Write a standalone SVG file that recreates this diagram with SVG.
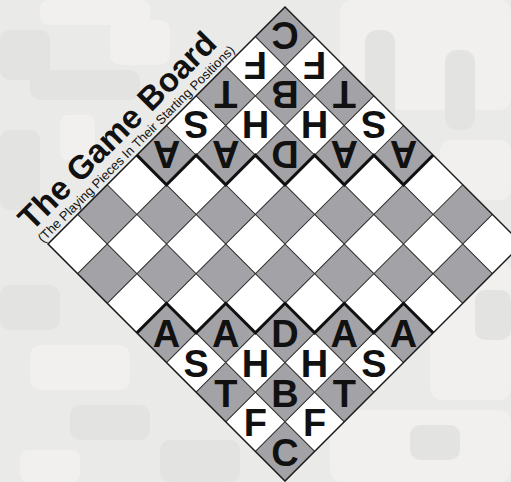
<svg xmlns="http://www.w3.org/2000/svg" width="511" height="482" viewBox="0 0 511 482">
<style>
.bgd{fill:#e3e3e2}
.bgl{fill:#f1f0ee}
.g{fill:#a3a3a7}
.grid{stroke:#2a2a2a;stroke-width:1;fill:none}
.thick{stroke:#111;stroke-width:3;fill:none;stroke-linejoin:miter}
.pc{font-family:"Liberation Sans",Arial,sans-serif;font-weight:bold;font-size:38px;fill:#111;text-anchor:middle}
</style>
<g id="background">
<rect x="0" y="0" width="511" height="482" fill="#eaeae8"/>
<rect class="bgl" x="40" y="0" width="110" height="25" rx="8"/>
<rect class="bgd" x="0" y="30" width="50" height="50" rx="10"/>
<rect class="bgd" x="30" y="70" width="110" height="30" rx="10"/>
<rect class="bgl" x="110" y="20" width="60" height="45" rx="10"/>
<rect class="bgd" x="0" y="130" width="40" height="80" rx="10"/>
<rect class="bgl" x="60" y="115" width="35" height="45" rx="8"/>
<rect class="bgl" x="340" y="0" width="171" height="110" rx="12"/>
<rect class="bgd" x="365" y="30" width="30" height="100" rx="12"/>
<rect class="bgd" x="445" y="50" width="30" height="80" rx="12"/>
<rect class="bgl" x="440" y="140" width="71" height="60" rx="10"/>
<rect class="bgl" x="430" y="260" width="81" height="140" rx="12"/>
<rect class="bgd" x="475" y="290" width="36" height="50" rx="10"/>
<rect class="bgl" x="330" y="410" width="181" height="72" rx="12"/>
<rect class="bgd" x="410" y="425" width="50" height="35" rx="10"/>
<rect class="bgd" x="0" y="285" width="60" height="45" rx="10"/>
<rect class="bgl" x="30" y="345" width="100" height="45" rx="10"/>
<rect class="bgd" x="70" y="405" width="80" height="35" rx="10"/>
<rect class="bgl" x="20" y="450" width="60" height="32" rx="8"/>
<rect class="bgd" x="160" y="440" width="80" height="42" rx="10"/>
</g>
<g id="board" transform="translate(285,7) rotate(45)">
<rect x="0" y="0" width="335.2" height="335.2" fill="#ffffff"/>
<g class="g">
<rect x="0" y="0" width="41.9" height="41.9"/><rect x="83.8" y="0" width="41.9" height="41.9"/><rect x="167.6" y="0" width="41.9" height="41.9"/><rect x="251.4" y="0" width="41.9" height="41.9"/>
<rect x="41.9" y="41.9" width="41.9" height="41.9"/><rect x="125.7" y="41.9" width="41.9" height="41.9"/><rect x="209.5" y="41.9" width="41.9" height="41.9"/><rect x="293.3" y="41.9" width="41.9" height="41.9"/>
<rect x="0" y="83.8" width="41.9" height="41.9"/><rect x="83.8" y="83.8" width="41.9" height="41.9"/><rect x="167.6" y="83.8" width="41.9" height="41.9"/><rect x="251.4" y="83.8" width="41.9" height="41.9"/>
<rect x="41.9" y="125.7" width="41.9" height="41.9"/><rect x="125.7" y="125.7" width="41.9" height="41.9"/><rect x="209.5" y="125.7" width="41.9" height="41.9"/><rect x="293.3" y="125.7" width="41.9" height="41.9"/>
<rect x="0" y="167.6" width="41.9" height="41.9"/><rect x="83.8" y="167.6" width="41.9" height="41.9"/><rect x="167.6" y="167.6" width="41.9" height="41.9"/><rect x="251.4" y="167.6" width="41.9" height="41.9"/>
<rect x="41.9" y="209.5" width="41.9" height="41.9"/><rect x="125.7" y="209.5" width="41.9" height="41.9"/><rect x="209.5" y="209.5" width="41.9" height="41.9"/><rect x="293.3" y="209.5" width="41.9" height="41.9"/>
<rect x="0" y="251.4" width="41.9" height="41.9"/><rect x="83.8" y="251.4" width="41.9" height="41.9"/><rect x="167.6" y="251.4" width="41.9" height="41.9"/><rect x="251.4" y="251.4" width="41.9" height="41.9"/>
<rect x="41.9" y="293.3" width="41.9" height="41.9"/><rect x="125.7" y="293.3" width="41.9" height="41.9"/><rect x="209.5" y="293.3" width="41.9" height="41.9"/><rect x="293.3" y="293.3" width="41.9" height="41.9"/>
</g>
<path class="grid" d="M41.9 0V335.2M83.8 0V335.2M125.7 0V335.2M167.6 0V335.2M209.5 0V335.2M251.4 0V335.2M293.3 0V335.2M0 41.9H335.2M0 83.8H335.2M0 125.7H335.2M0 167.6H335.2M0 209.5H335.2M0 251.4H335.2M0 293.3H335.2"/>
<rect x="0" y="0" width="335.2" height="335.2" fill="none" stroke="#1a1a1a" stroke-width="1.5"/>
<path class="thick" d="M209.5 0V41.9H167.6V83.8H125.7V125.7H83.8V167.6H41.9V209.5H0"/>
<path class="thick" d="M335.2 125.7H293.3V167.6H251.4V209.5H209.5V251.4H167.6V293.3H125.7V335.2"/>
</g>
<g id="title" transform="translate(48,244) rotate(-45)" font-family="'Liberation Sans',Arial,sans-serif" fill="#111">
<text x="-3" y="-20" font-size="33" font-weight="bold">The Game Board</text>
<text x="-3" y="-4" font-size="13">(The Playing Pieces In Their Starting Positions)</text>
</g>
<g id="pieces-top">
<text class="pc" x="285" y="51.1" transform="rotate(180 285 36.6)">C</text>
<text class="pc" x="314.6" y="80.8" transform="rotate(180 314.6 66.3)">F</text>
<text class="pc" x="255.4" y="80.8" transform="rotate(180 255.4 66.3)">F</text>
<text class="pc" x="344.3" y="110.4" transform="rotate(180 344.3 95.9)">T</text>
<text class="pc" x="285" y="110.4" transform="rotate(180 285 95.9)">B</text>
<text class="pc" x="225.8" y="110.4" transform="rotate(180 225.8 95.9)">T</text>
<text class="pc" x="373.9" y="140" transform="rotate(180 373.9 125.5)">S</text>
<text class="pc" x="314.6" y="140" transform="rotate(180 314.6 125.5)">H</text>
<text class="pc" x="255.4" y="140" transform="rotate(180 255.4 125.5)">H</text>
<text class="pc" x="196.1" y="140" transform="rotate(180 196.1 125.5)">S</text>
<text class="pc" x="403.5" y="169.6" transform="rotate(180 403.5 155.1)">A</text>
<text class="pc" x="344.3" y="169.6" transform="rotate(180 344.3 155.1)">A</text>
<text class="pc" x="285" y="169.6" transform="rotate(180 285 155.1)">D</text>
<text class="pc" x="225.8" y="169.6" transform="rotate(180 225.8 155.1)">A</text>
<text class="pc" x="166.5" y="169.6" transform="rotate(180 166.5 155.1)">A</text>
</g>
<g id="pieces-bottom">
<text class="pc" x="403.5" y="347.4">A</text>
<text class="pc" x="344.3" y="347.4">A</text>
<text class="pc" x="285" y="347.4">D</text>
<text class="pc" x="225.8" y="347.4">A</text>
<text class="pc" x="166.5" y="347.4">A</text>
<text class="pc" x="373.9" y="377">S</text>
<text class="pc" x="314.6" y="377">H</text>
<text class="pc" x="255.4" y="377">H</text>
<text class="pc" x="196.1" y="377">S</text>
<text class="pc" x="344.3" y="406.6">T</text>
<text class="pc" x="285" y="406.6">B</text>
<text class="pc" x="225.8" y="406.6">T</text>
<text class="pc" x="314.6" y="436.3">F</text>
<text class="pc" x="255.4" y="436.3">F</text>
<text class="pc" x="285" y="465.9">C</text>
</g>
</svg>
